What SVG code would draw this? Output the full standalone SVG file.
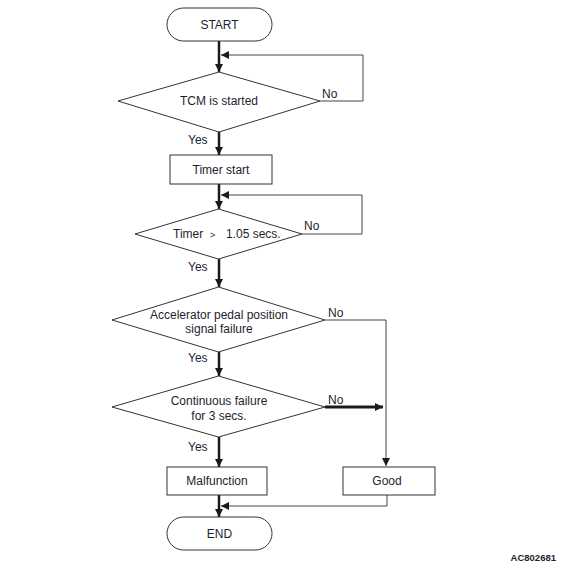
<svg xmlns="http://www.w3.org/2000/svg" width="565" height="567" viewBox="0 0 565 567">
<style>
.shape{fill:#fff;stroke:#333;stroke-width:1}
.t{font-family:"Liberation Sans",Arial,sans-serif;font-size:12px;fill:#1e1e2e;text-anchor:middle}
.l{font-family:"Liberation Sans",Arial,sans-serif;font-size:12px;fill:#1e1e2e}
.main{fill:none;stroke:#1a1a1a;stroke-width:2.5}
.thin{fill:none;stroke:#444;stroke-width:1}
.thick{fill:none;stroke:#1a1a1a;stroke-width:3}
</style>
<defs>
<marker id="ah" viewBox="0 0 10 10" refX="10" refY="5" markerWidth="8" markerHeight="8" markerUnits="userSpaceOnUse" orient="auto">
<path d="M0,0 L10,5 L0,10 z" fill="#1a1a1a"/>
</marker>
</defs>
<rect width="565" height="567" fill="#fff"/>
<g id="connectors">
<line class="main" x1="219" y1="41" x2="219" y2="72" marker-end="url(#ah)"/>
<polyline class="thin" points="320,101 363,101 363,55 221,55" marker-end="url(#ah)"/>
<line class="main" x1="219" y1="132" x2="219" y2="155" marker-end="url(#ah)"/>
<line class="main" x1="219" y1="184" x2="219" y2="209" marker-end="url(#ah)"/>
<polyline class="thin" points="302,234 362,234 362,195 221,195" marker-end="url(#ah)"/>
<line class="main" x1="219" y1="259" x2="219" y2="287" marker-end="url(#ah)"/>
<polyline class="thin" points="325,320 386,320 386,466" marker-end="url(#ah)"/>
<line class="main" x1="219" y1="350" x2="219" y2="376" marker-end="url(#ah)"/>
<line class="thick" x1="325" y1="407" x2="383" y2="407" marker-end="url(#ah)"/>
<line class="main" x1="219" y1="437" x2="219" y2="467" marker-end="url(#ah)"/>
<polyline class="thin" points="387,495 387,506 221,506" marker-end="url(#ah)"/>
<line class="main" x1="219" y1="495" x2="219" y2="517" marker-end="url(#ah)"/>
<text class="l" x="322" y="98">No</text>
<text class="l" x="188" y="144">Yes</text>
<text class="l" x="304" y="230">No</text>
<text class="l" x="188" y="271">Yes</text>
<text class="l" x="328" y="317">No</text>
<text class="l" x="188" y="362">Yes</text>
<text class="l" x="328" y="404">No</text>
<text class="l" x="188" y="451">Yes</text>
</g>
<g id="start">
<rect class="shape" x="167" y="8" width="105" height="33" rx="16.5"/>
<text class="t" x="219.5" y="29">START</text>
</g>
<g id="tcm">
<polygon class="shape" points="219,72 320,101 219,132 118,101"/>
<text class="t" x="219" y="105">TCM is started</text>
</g>
<g id="timerstart">
<rect class="shape" x="170" y="155" width="102" height="29"/>
<text class="t" x="221" y="174">Timer start</text>
</g>
<g id="timer">
<polygon class="shape" points="218.5,209 302,234 218.5,259 135,234"/>
<text class="l" x="173" y="238">Timer<tspan x="210" font-size="9">&gt;</tspan><tspan x="226">1.05 secs.</tspan></text>
</g>
<g id="accel">
<polygon class="shape" points="218.5,287 325,320 218.5,352 112,320"/>
<text class="t" x="219" y="319">Accelerator pedal position</text>
<text class="t" x="219" y="333">signal failure</text>
</g>
<g id="continuous">
<polygon class="shape" points="218.5,376 325,407 218.5,437 112,407"/>
<text class="t" x="219" y="405">Continuous failure</text>
<text class="t" x="219" y="420">for 3 secs.</text>
</g>
<g id="malfunction">
<rect class="shape" x="167" y="467" width="100" height="28"/>
<text class="t" x="217" y="485">Malfunction</text>
</g>
<g id="good">
<rect class="shape" x="343" y="467" width="92" height="28"/>
<text class="t" x="387" y="485">Good</text>
</g>
<g id="end">
<rect class="shape" x="167" y="517" width="105" height="33" rx="16.5"/>
<text class="t" x="219.5" y="538">END</text>
</g>
<text x="556" y="561" font-family="Liberation Sans,Arial,sans-serif" font-size="9.5" font-weight="bold" fill="#1e1e2e" text-anchor="end">AC802681</text>
</svg>
